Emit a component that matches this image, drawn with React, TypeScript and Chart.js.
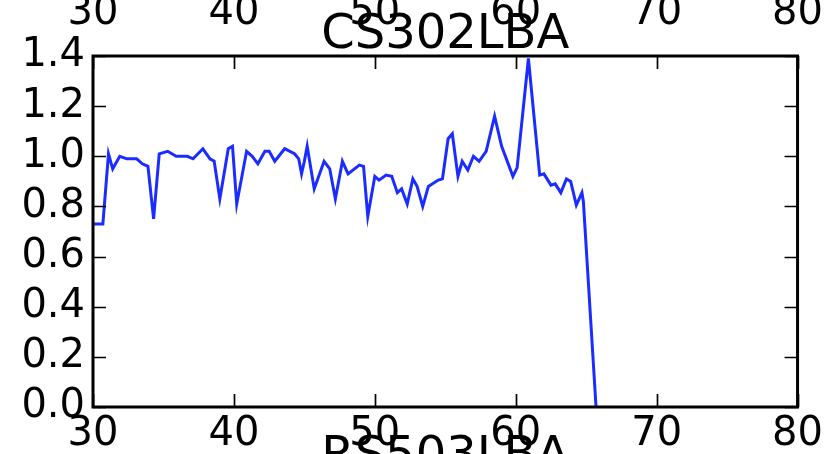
import React, { useEffect, useRef } from "react";
import { Chart, registerables } from "chart.js";

Chart.register(...registerables);

// Station response curve for CS302LBA (x: frequency-like index, y: normalised amplitude)
const xValues = [
  30.0, 30.7, 31.1, 31.4, 31.9, 32.4, 33.1, 33.5, 33.9, 34.3, 34.7, 35.3, 35.9, 36.7,
  37.1, 37.8, 38.3, 38.6, 39.0, 39.6, 39.9, 40.2, 40.9, 41.3, 41.7, 42.2, 42.5, 42.9,
  43.6, 44.3, 44.6, 44.8, 45.0, 45.2, 45.7, 46.4, 46.8, 47.2, 47.7, 48.1, 48.9, 49.2,
  49.5, 50.0, 50.3, 50.8, 51.2, 51.6, 51.9, 52.3, 52.7, 53.0, 53.4, 53.8, 54.5, 54.8,
  55.2, 55.5, 55.9, 56.2, 56.6, 57.0, 57.4, 57.9, 58.5, 59.0, 59.8, 60.1, 60.9, 61.7,
  62.0, 62.5, 62.8, 63.2, 63.6, 63.9, 64.3, 64.7, 64.8, 65.7,
];
const yValues = [
  0.73, 0.73, 1.01, 0.95, 1.0, 0.99, 0.99, 0.97, 0.96, 0.75, 1.01, 1.02, 1.0, 1.0,
  0.99, 1.03, 0.99, 0.98, 0.83, 1.03, 1.04, 0.81, 1.02, 1.0, 0.97, 1.02, 1.02, 0.98,
  1.03, 1.01, 0.99, 0.93, 0.98, 1.04, 0.87, 0.98, 0.95, 0.83, 0.98, 0.93, 0.965, 0.96,
  0.76, 0.92, 0.905, 0.925, 0.92, 0.855, 0.87, 0.81, 0.91, 0.88, 0.8, 0.88, 0.905, 0.91,
  1.07, 1.09, 0.92, 0.98, 0.945, 1.0, 0.98, 1.02, 1.16, 1.04, 0.92, 0.955, 1.39, 0.925,
  0.93, 0.885, 0.89, 0.855, 0.91, 0.9, 0.805, 0.855, 0.82, 0.0,
];

const xTicks = [30, 40, 50, 60, 70, 80];
const yTicks = [0, 0.2, 0.4, 0.6, 0.8, 1.0, 1.2, 1.4];
const titleText = "CS302LBA";
const nextTitleText = "RS503LBA";

const FONT = "'DejaVu Sans', sans-serif";
const TICK_PX = 40;
const TITLE_PX = 48;
const PANEL_GAP = 71;

// Frame, inward ticks on all four sides, title and neighbouring-panel text
const framePlugin = {
  id: "frame",
  afterDraw(chart: any) {
    const { ctx, chartArea } = chart;
    const { left, right, top, bottom } = chartArea;
    const xs = chart.scales.x;
    const ys = chart.scales.y;
    ctx.save();
    ctx.strokeStyle = "#000";
    ctx.lineWidth = 1.7;
    const tl = 13;
    ctx.beginPath();
    for (const t of xTicks) {
      const px = Math.round(xs.getPixelForValue(t)) + 0.5;
      ctx.moveTo(px, bottom);
      ctx.lineTo(px, bottom - tl);
      ctx.moveTo(px, top);
      ctx.lineTo(px, top + tl);
    }
    for (const t of yTicks) {
      const py = Math.round(ys.getPixelForValue(t)) + 0.5;
      ctx.moveTo(left, py);
      ctx.lineTo(left + tl, py);
      ctx.moveTo(right, py);
      ctx.lineTo(right - tl, py);
    }
    ctx.stroke();
    ctx.lineWidth = 3;
    ctx.strokeRect(left, top, right - left, bottom - top);

    ctx.fillStyle = "#000";
    ctx.textAlign = "center";
    ctx.textBaseline = "alphabetic";
    const cx = (left + right) / 2;
    // tick labels of the panel above
    ctx.font = `${TICK_PX}px ${FONT}`;
    for (const t of xTicks) {
      ctx.fillText(String(t), xs.getPixelForValue(t), 24);
    }
    // titles: this panel and the one below
    ctx.font = `${TITLE_PX}px ${FONT}`;
    ctx.fillText(titleText, cx, top - 8);
    ctx.fillText(nextTitleText, cx, bottom + PANEL_GAP - 8);
    ctx.restore();
  },
};

export default function App() {
  const ref = useRef<HTMLCanvasElement>(null);

  useEffect(() => {
    const canvas = ref.current;
    if (!canvas) return;
    const points = xValues.map((x, i) => ({ x, y: yValues[i] }));
    const chart = new Chart(canvas, {
      type: "line",
      data: {
        datasets: [
          {
            data: points,
            borderColor: "#1a2cff",
            borderWidth: 3,
            pointRadius: 0,
            tension: 0,
            fill: false,
          },
        ],
      },
      options: {
        responsive: false,
        animation: false,
        layout: { padding: { top: 56, right: 29, left: 0, bottom: 0 } },
        plugins: {
          legend: { display: false },
          title: { display: false },
          tooltip: { enabled: false },
        },
        scales: {
          x: {
            type: "linear",
            min: 30,
            max: 80,
            grid: { display: false, drawTicks: false },
            border: { display: false },
            afterFit(scale: any) {
              scale.height = 47;
            },
            afterBuildTicks(scale: any) {
              scale.ticks = xTicks.map((v) => ({ value: v }));
            },
            ticks: {
              color: "#000",
              font: { family: FONT, size: TICK_PX },
              padding: 4,
              maxRotation: 0,
              autoSkip: false,
              callback: (v: any) => String(v),
            },
          },
          y: {
            min: 0,
            max: 1.4,
            grid: { display: false, drawTicks: false },
            border: { display: false },
            afterFit(scale: any) {
              scale.width = 93;
            },
            afterBuildTicks(scale: any) {
              scale.ticks = yTicks.map((v) => ({ value: v }));
            },
            ticks: {
              color: "#000",
              font: { family: FONT, size: TICK_PX },
              padding: 8,
              autoSkip: false,
              callback: (v: any) => Number(v).toFixed(1),
            },
          },
        },
      },
      plugins: [framePlugin],
    });
    return () => chart.destroy();
  }, []);

  return (
    <div style={{ position: "fixed", left: 0, top: 0, width: 827, height: 454, background: "#fff" }}>
      <canvas ref={ref} width={827} height={454} />
    </div>
  );
}
